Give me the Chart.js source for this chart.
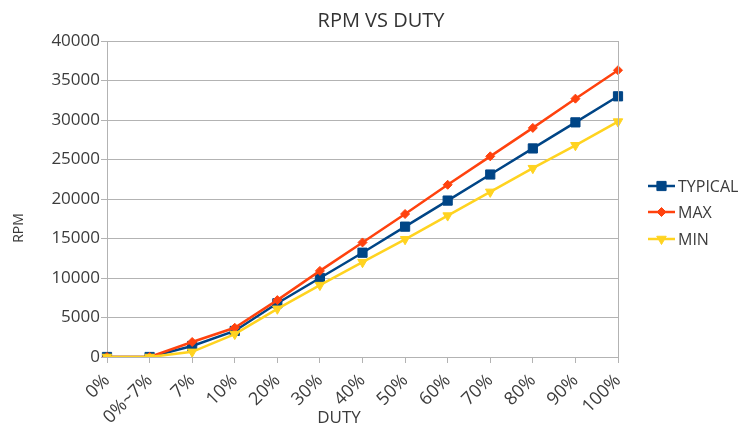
<!DOCTYPE html>
<html>
<head>
<meta charset="utf-8">
<script src="https://cdn.jsdelivr.net/npm/chart.js@4/dist/chart.umd.min.js"></script>
<style>
  html, body { margin: 0; padding: 0; background: #fff; }
  #wrap { width: 741px; height: 427px; }
</style>
</head>
<body>
<div id="wrap"><canvas id="c" width="741" height="427"></canvas></div>
<script>
const categories = ["0%", "0%~7%", "7%", "10%", "20%", "30%", "40%", "50%", "60%", "70%", "80%", "90%", "100%"];
const typicalValues = [0, 0, 1400, 3300, 6800, 10000, 13200, 16500, 19800, 23100, 26400, 29700, 33000];
const maxValues = [0, 0, 1900, 3700, 7200, 10900, 14500, 18100, 21800, 25400, 29000, 32700, 36300];
const minValues = [0, 0, 650, 2900, 6100, 9100, 12000, 14900, 17900, 20900, 23900, 26800, 29800];
const seriesNames = ["TYPICAL", "MAX", "MIN"];
const yTicks = [0, 5000, 10000, 15000, 20000, 25000, 30000, 35000, 40000];
const chartTitle = "RPM VS DUTY";
const xTitle = "DUTY";
const yTitle = "RPM";

const FONT = "'Open Sans', 'DejaVu Sans', sans-serif";
const GRID = '#b3b3b3';
const TEXT = '#3c3c3c';

const styles = [
  { color: '#004586', pointStyle: 'rect', radius: 6.5, rotation: 0 },
  { color: '#ff420e', pointStyle: 'rectRot', radius: 4.5, rotation: 0 },
  { color: '#ffd320', pointStyle: 'triangle', radius: 5.5, rotation: 180 }
];
const values = [typicalValues, maxValues, minValues];

const datasets = seriesNames.map((name, i) => ({
  label: name,
  data: values[i],
  borderColor: styles[i].color,
  backgroundColor: styles[i].color,
  borderWidth: 2.5,
  pointStyle: styles[i].pointStyle,
  pointRadius: styles[i].radius,
  pointRotation: styles[i].rotation,
  pointBorderWidth: 1,
  pointBackgroundColor: styles[i].color,
  pointBorderColor: styles[i].color,
  tension: 0,
  order: 3 - i
}));

const extras = {
  id: 'extras',
  afterLayout(chart) {
    if (chart.titleBlock) {
      chart.titleBlock.left = 0;
      chart.titleBlock.right = 762;
    }
  },
  afterDatasetsDraw(chart) {
    const ctx = chart.ctx;
    const a = chart.chartArea;
    ctx.save();
    ctx.strokeStyle = GRID;
    ctx.lineWidth = 1;
    ctx.beginPath();
    ctx.moveTo(Math.round(a.right) + 0.5, a.top);
    ctx.lineTo(Math.round(a.right) + 0.5, a.bottom);
    ctx.stroke();
    ctx.restore();
  },
  afterDraw(chart) {
    const ctx = chart.ctx;
    ctx.save();
    ctx.fillStyle = TEXT;
    ctx.textAlign = 'center';
    ctx.textBaseline = 'middle';
    ctx.font = '17px ' + FONT;
    ctx.fillText(xTitle, 339, 418);
    ctx.save();
    ctx.translate(19, 228);
    ctx.rotate(-Math.PI / 2);
    ctx.font = '14px ' + FONT;
    ctx.fillText(yTitle, 0, 0);
    ctx.restore();
    const ys = [186, 212, 239];
    chart.data.datasets.forEach((ds, i) => {
      const y = ys[i];
      ctx.strokeStyle = ds.borderColor;
      ctx.lineWidth = 2.5;
      ctx.beginPath();
      ctx.moveTo(648, y);
      ctx.lineTo(675, y);
      ctx.stroke();
      ctx.fillStyle = ds.borderColor;
      ctx.strokeStyle = ds.borderColor;
      ctx.lineWidth = 1;
      Chart.helpers.drawPoint(ctx, {
        pointStyle: ds.pointStyle,
        rotation: ds.pointRotation,
        radius: ds.pointRadius,
        borderWidth: 1
      }, 661.5, y);
      ctx.fillStyle = TEXT;
      ctx.font = '16px ' + FONT;
      ctx.textBaseline = 'middle';
      ctx.textAlign = 'left';
      ctx.fillText(ds.label, 678, y + 1);
    });
    ctx.restore();
  }
};

new Chart(document.getElementById('c'), {
  type: 'line',
  data: { labels: categories, datasets },
  plugins: [extras],
  options: {
    responsive: false,
    animation: false,
    layout: { padding: { left: 0, right: 123, top: 0, bottom: 0 } },
    plugins: {
      legend: { display: false },
      tooltip: { enabled: false },
      title: {
        display: true,
        text: chartTitle,
        color: '#333',
        font: { family: FONT, size: 20, weight: 'normal' },
        padding: { top: 9, bottom: 8 }
      }
    },
    scales: {
      x: {
        offset: false,
        grid: { display: true, drawOnChartArea: false, color: GRID, tickLength: 6 },
        border: { color: GRID },
        ticks: {
          autoSkip: false,
          maxRotation: 45, minRotation: 45,
          color: TEXT,
          padding: 7,
          font: { family: FONT, size: 18 }
        },
        title: { display: false },
        afterFit(scale) { scale.height = 70; }
      },
      y: {
        min: 0, max: 40000,
        afterBuildTicks(scale) { scale.ticks = yTicks.map(v => ({ value: v })); },
        grid: { color: GRID, tickLength: 6 },
        border: { color: GRID },
        ticks: {
          color: TEXT,
          padding: 1,
          font: { family: FONT, size: 17 },
          callback: (v) => String(v)
        },
        title: { display: false },
        afterFit(scale) { scale.width = 107; }
      }
    }
  }
});
</script>
</body>
</html>
